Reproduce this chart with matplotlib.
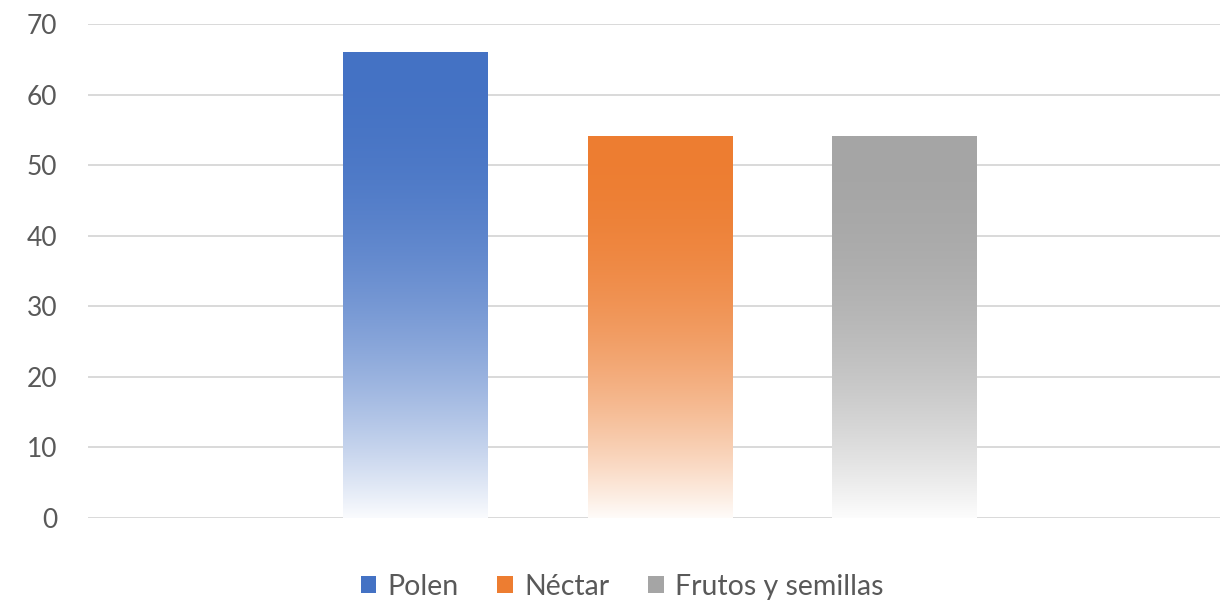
import numpy as np
import matplotlib
matplotlib.use("Agg")
import matplotlib.pyplot as plt
from matplotlib.colors import to_rgb
from matplotlib.patches import Rectangle

categories = ["Polen", "Néctar", "Frutos y semillas"]
values = [66, 54, 54]
colors = ["#4472C4", "#ED7D31", "#A5A5A5"]
yticks = [0, 10, 20, 30, 40, 50, 60, 70]

plt.rcParams['font.family'] = ['Lato', 'DejaVu Sans']

fig = plt.figure(figsize=(12.2, 6.01), dpi=100)
ax = fig.add_axes([0.0721, 0.138, 0.9279, 0.822])

x = np.arange(len(categories))
width = 0.59
bars = ax.bar(x, values, width=width, color=colors, label=categories, zorder=2)

# gradient fill for each bar
n = 256
for b, c in zip(bars, colors):
    b.set_facecolor("none")
    rgb = np.array(to_rgb(c))
    t = np.linspace(0, 1, n)[:, None]  # 0 top -> 1 bottom
    w = np.clip(0.97 * t ** 2.1, 0, 1)
    img = (1 - w) * rgb[None, :] + w * np.ones(3)[None, :]
    img = img[:, None, :]
    x0, y0 = b.get_x(), b.get_y()
    bw, bh = b.get_width(), b.get_height()
    ax.imshow(img, extent=(x0, x0 + bw, y0, y0 + bh), aspect='auto',
              origin='upper', zorder=2, interpolation='bilinear')

ax.set_xlim(-1.337, 3.29)
ax.set_ylim(0, 70)
ax.set_yticks(yticks)
ax.set_xticks([])
ax.grid(axis='y', color='#D9D9D9', linewidth=1.4, zorder=0)
ax.set_axisbelow(True)
for s in ax.spines.values():
    s.set_visible(False)
ax.tick_params(axis='y', length=0, pad=22, labelsize=19, labelcolor='#595959')

handles = [Rectangle((0, 0), 1, 1, facecolor=c) for c in colors]
leg = fig.legend(handles, categories, loc='center', bbox_to_anchor=(0.51, 0.024),
                 ncol=3, frameon=False, fontsize=20.5, labelcolor='#595959',
                 handlelength=0.55, handleheight=0.55, handletextpad=0.4, columnspacing=1.35)

fig.savefig("out.png", dpi=100)
